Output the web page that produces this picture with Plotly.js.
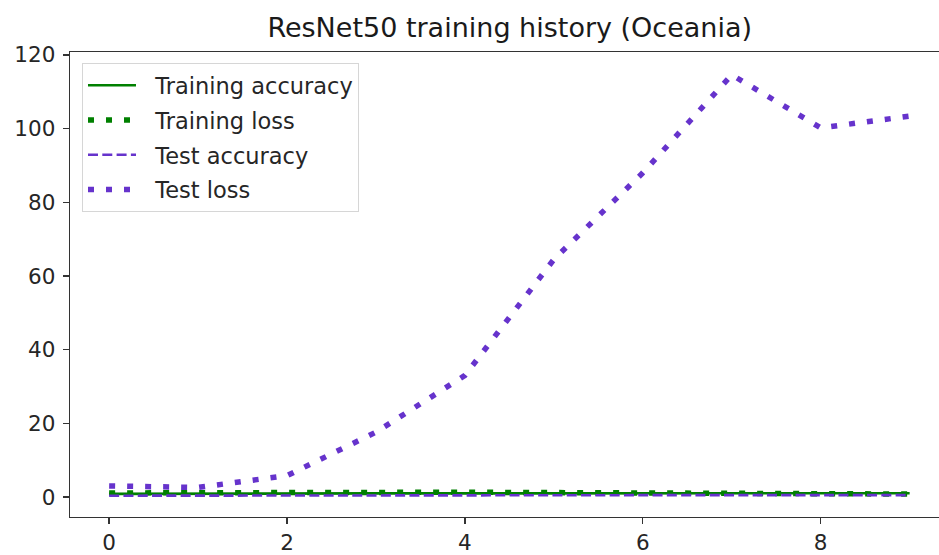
<!DOCTYPE html>
<html>
<head>
<meta charset="utf-8">
<script src="https://cdn.plot.ly/plotly-3.0.1.min.js"></script>
<style>
  html, body { margin: 0; padding: 0; background: #ffffff; overflow: hidden; }
  #chart { width: 939px; height: 555px; }
</style>
</head>
<body>
<div id="chart"></div>
<script>
// Epoch index
const epochs = [0, 1, 2, 3, 4, 5, 6, 7, 8, 9];

// Per-epoch metrics for ResNet50 trained on the Oceania split
const trainAccuracy = [0.85, 0.95, 0.98, 0.99, 0.99, 1.0, 1.0, 1.0, 1.0, 1.0];
const trainLoss     = [1.1, 1.2, 1.4, 1.35, 1.3, 1.2, 1.1, 1.0, 0.9, 0.8];
const testAccuracy  = [0.35, 0.4, 0.45, 0.45, 0.5, 0.5, 0.5, 0.5, 0.5, 0.5];
const testLoss      = [3.0, 2.6, 5.8, 17.6, 33.0, 64.5, 88.0, 114.6, 100.2, 103.4];

const seriesNames = ['Training accuracy', 'Training loss', 'Test accuracy', 'Test loss'];
const xTicks = [0, 2, 4, 6, 8];
const yTicks = [0, 20, 40, 60, 80, 100, 120];

const GREEN = '#008000';
const PURPLE = '#6633cc';
const DOTS = '6px,12px';
// non-breaking spaces open a gap between each legend sample and its label
const GAP = '\u00a0\u00a0';

const traces = [
  { x: epochs, y: trainAccuracy, name: GAP + seriesNames[0], legendgroup: 'a',
    mode: 'lines', line: { color: GREEN, width: 2.6 } },
  { x: epochs, y: trainLoss, name: GAP + seriesNames[1], legendgroup: 'b',
    mode: 'lines', line: { color: GREEN, width: 5.5, dash: DOTS } },
  { x: epochs, y: testAccuracy, name: GAP + seriesNames[2], legendgroup: 'c',
    mode: 'lines', line: { color: PURPLE, width: 2.6, dash: '10px,4.3px' } },
  { x: epochs, y: testLoss, name: GAP + seriesNames[3], legendgroup: 'd',
    mode: 'lines', line: { color: PURPLE, width: 5.5, dash: DOTS } }
];

const font = { family: 'DejaVu Sans, sans-serif', color: '#262626' };

const layout = {
  width: 939,
  height: 555,
  margin: { l: 70, r: 0, t: 52, b: 38, pad: 0 },
  paper_bgcolor: '#ffffff',
  plot_bgcolor: '#ffffff',
  font: Object.assign({ size: 21.5 }, font),
  showlegend: true,
  title: {
    text: 'ResNet50 training history (Oceania)',
    font: Object.assign({}, font, { size: 27, color: '#1a1a1a' }),
    xref: 'paper', x: 0.506, xanchor: 'center',
    yref: 'container', y: 0.95, yanchor: 'middle'
  },
  xaxis: {
    range: [-0.44, 9.33],
    tickvals: xTicks,
    ticktext: xTicks.map(String),
    ticks: 'outside', ticklen: 6, tickwidth: 1.3, tickcolor: '#333333',
    showline: true, linecolor: '#333333', linewidth: 1.3, mirror: true,
    showgrid: false, zeroline: false,
    tickfont: Object.assign({}, font, { size: 21.5 })
  },
  yaxis: {
    range: [-5.43, 120.8],
    tickvals: yTicks,
    ticktext: yTicks.map(String),
    ticks: 'outside', ticklen: 6, tickwidth: 1.3, tickcolor: '#333333',
    showline: true, linecolor: '#333333', linewidth: 1.3, mirror: false,
    showgrid: false, zeroline: false,
    ticklabelstandoff: 3,
    tickfont: Object.assign({}, font, { size: 21.5 })
  },
  legend: {
    x: 0.0138, xanchor: 'left',
    y: 0.976, yanchor: 'top',
    bgcolor: 'rgba(255,255,255,0.85)',
    bordercolor: '#d6d6d6', borderwidth: 1,
    font: Object.assign({}, font, { size: 22.5 }),
    traceorder: 'grouped',
    tracegroupgap: 2.5,
    itemwidth: 48
  }
};

Plotly.newPlot('chart', traces, layout, { staticPlot: true, displayModeBar: false });
</script>
</body>
</html>
